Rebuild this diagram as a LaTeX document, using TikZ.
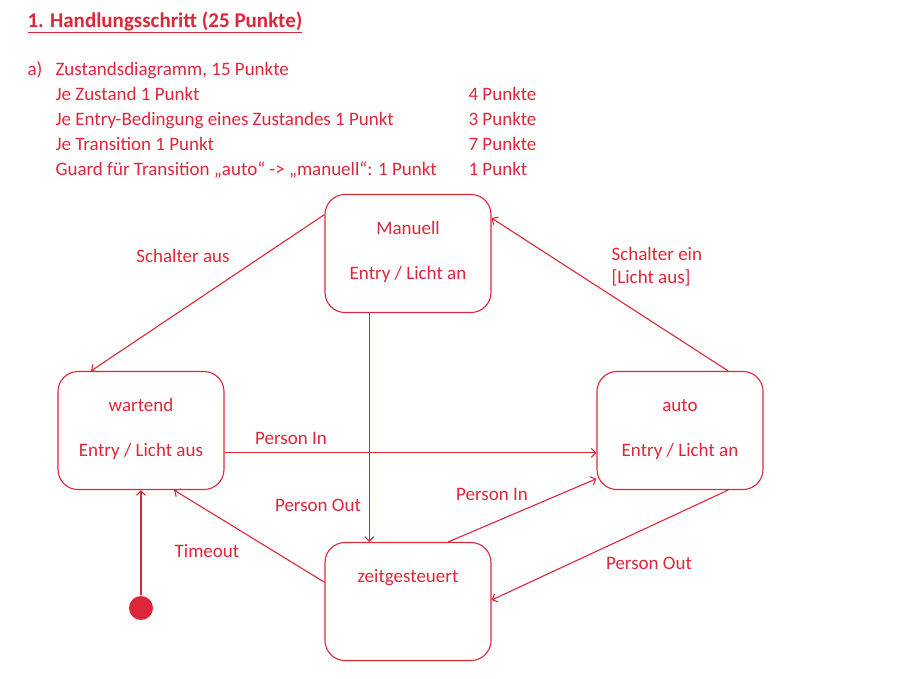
\documentclass[tikz,border=0pt]{standalone}
\usepackage{fontspec}
\setmainfont{Carlito}
\usetikzlibrary{positioning,arrows.meta}
\definecolor{exam_red}{RGB}{222,38,58}

\tikzset{
  state/.style = {draw, rounded corners = 20pt, minimum width = 166pt, minimum height = 118pt, align = center, font = \fontsize{19}{19}\selectfont},
  trans/.style = {->, >={Straight Barb[length=4.5pt, width=9pt]}},
  lbl/.style = {font = \fontsize{19}{19}\selectfont},
  task/.style = {anchor = base west, inner sep = 0pt, font = \fontsize{19}{19}\selectfont}
}

\begin{document}
\begin{tikzpicture}[x = 1pt, y = -1pt, color = exam_red, line width = 1.1pt]
\useasboundingbox (0,0) rectangle (903,678);
% Aufgabenkopf
\node[anchor = base west, inner sep = 0pt, font = \bfseries\fontsize{21}{21}\selectfont] (heading) at (27,27) {\underline{1. Handlungsschritt (25 Punkte)}};
\node[task] (item_a) at (27,75) {a)};
\node[task] (item_total) at (55,75) {Zustandsdiagramm, 15 Punkte};
\node[task] (item_zustand) at (55,100) {Je Zustand 1 Punkt};
\node[task] (item_entry) at (55,125) {Je Entry-Bedingung eines Zustandes 1 Punkt};
\node[task] (item_trans) at (55,150) {Je Transition 1 Punkt};
\node[task] (item_guard) at (55,175) {Guard für Transition „auto“ -> „manuell“: 1 Punkt};
\node[task] (pts_zustand) at (468,100) {4 Punkte};
\node[task] (pts_entry) at (468,125) {3 Punkte};
\node[task] (pts_trans) at (468,150) {7 Punkte};
\node[task] (pts_guard) at (468,175) {1 Punkt};

% Zustaende
\node[state] (manuell) at (408,253.5) {Manuell\\[26pt]Entry / Licht an\strut};
\node[state] (wartend) at (141,430.5) {wartend\\[26pt]Entry / Licht aus\strut};
\node[state] (automatik) at (680,430.5) {auto\\[26pt]Entry / Licht an\strut};
\node[state] (zeit) at (408,601.5) {zeitgesteuert\\[26pt]\strut};
\node[circle, fill, minimum size = 24pt, inner sep = 0pt] (start_dot) at (141,608) {};

% Transitionen
\draw[trans] (manuell.155) -- (wartend.130);
\draw[trans] (automatik.51) -- (manuell.23);
\draw[trans] (wartend.345) -- (automatik.195);
\draw[trans] (manuell.237) -- (manuell.237 |- zeit.north);
\draw[trans] (zeit.167) -- (wartend.299);
\draw[trans] (zeit.56) -- (automatik.210);
\draw[trans] (automatik.309) -- (zeit.1);
\draw[trans] (start_dot) -- (wartend.south);

\node[lbl] (lbl_schalter_aus) at (183,256) {Schalter aus};
\node[lbl, anchor = west, align = left, inner sep = 0pt, font = \fontsize{19}{23}\selectfont] (lbl_schalter_ein) at (611,267) {Schalter ein\\{[Licht aus]}};
\node[lbl] (lbl_in_top) at (291,438) {Person In};
\node[lbl] (lbl_out_left) at (318,505) {Person Out};
\node[lbl] (lbl_timeout) at (207,551) {Timeout};
\node[lbl] (lbl_in_bottom) at (492,494) {Person In};
\node[lbl] (lbl_out_right) at (649,563) {Person Out};
\end{tikzpicture}
\end{document}
